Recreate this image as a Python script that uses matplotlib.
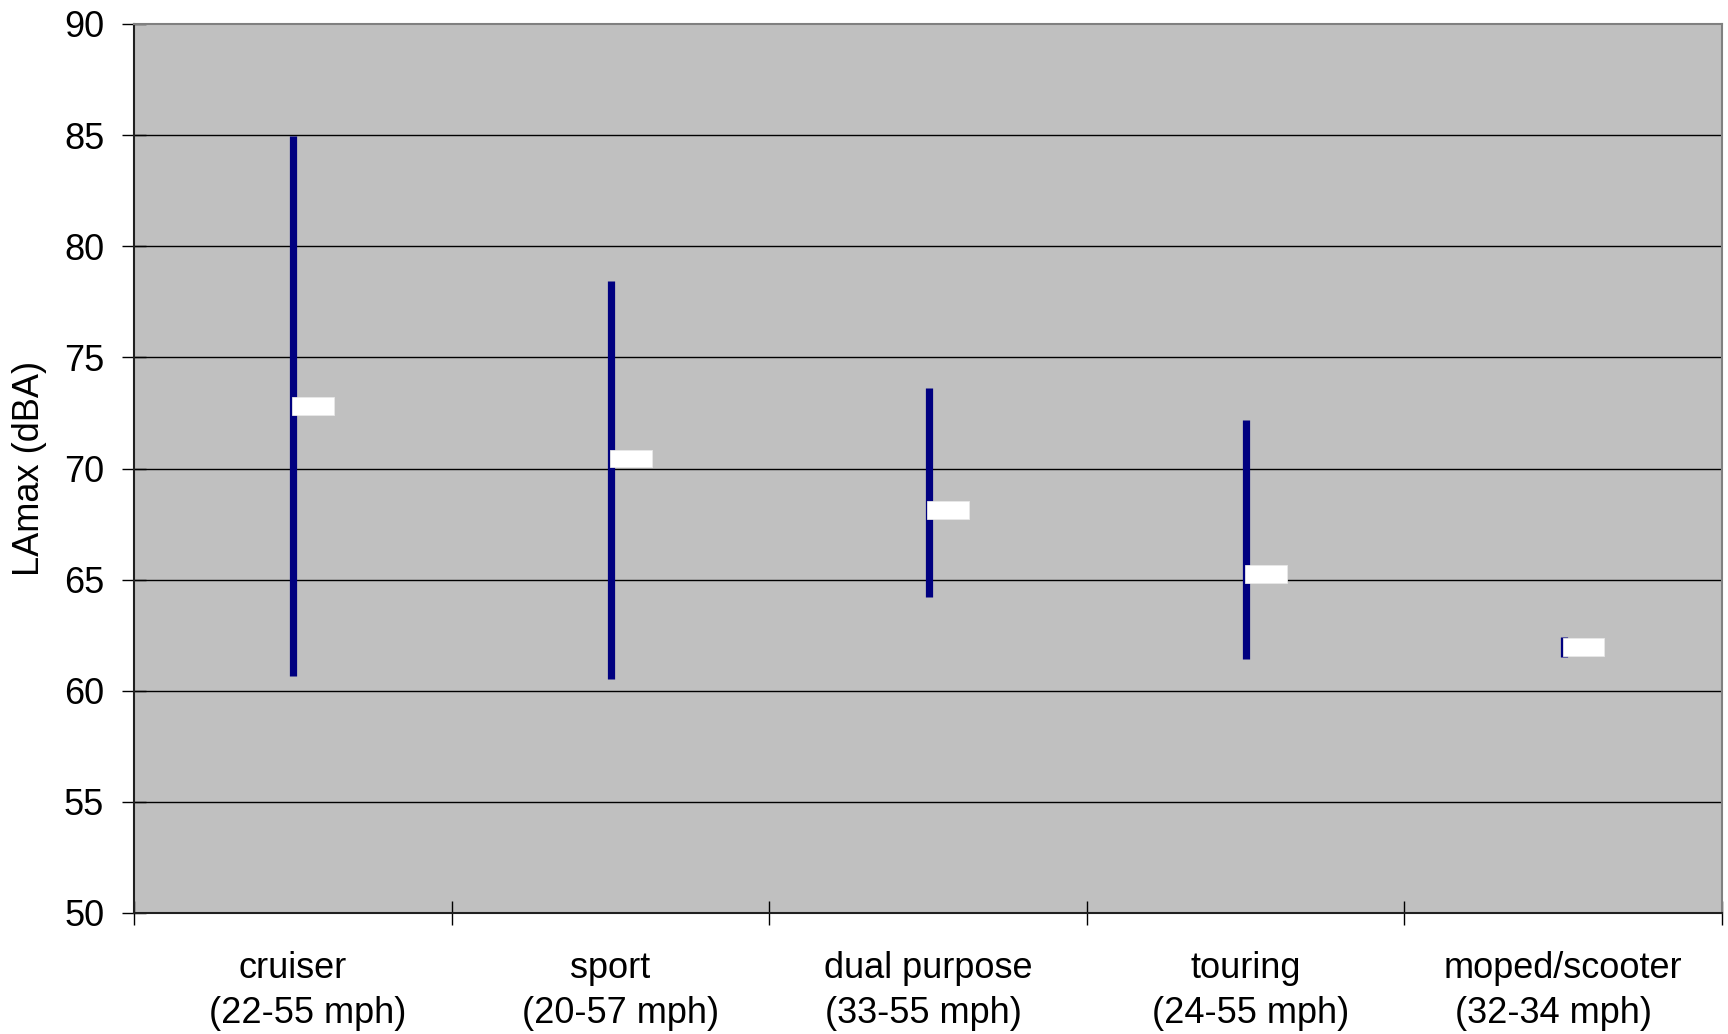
import matplotlib
matplotlib.use("Agg")
import matplotlib.pyplot as plt
import numpy as np

# ---- data ----
categories = ["cruiser", "sport", "dual purpose", "touring", "moped/scooter"]
speed_ranges = ["(22-55 mph)", "(20-57 mph)", "(33-55 mph)", "(24-55 mph)", "(32-34 mph)"]
high_vals = [84.95, 78.45, 73.6, 72.2, 62.42]
low_vals = [60.65, 60.55, 64.2, 61.45, 61.5]
mean_vals = [72.8, 70.45, 68.15, 65.25, 61.96]
y_ticks = [50, 55, 60, 65, 70, 75, 80, 85, 90]

# label spacing tweaks (imitate original text centring)
second_prefix = ["   ", "  ", "", " ", ""]
second_suffix = ["", "", " ", "", "  "]

plt.rcParams['font.family'] = ['Liberation Sans', 'DejaVu Sans']

fig = plt.figure(figsize=(17.28, 10.34), dpi=100)
ax = fig.add_axes([134/1728, 1 - 913/1034, (1722-134)/1728, (913-24)/1034])
ax.set_facecolor("#C0C0C0")

x = np.arange(len(categories)) + 0.5
ax.set_xlim(0, len(categories))
ax.set_ylim(50, 90)

# gridlines
for yv in y_ticks[1:-1]:
    ax.axhline(yv, color="black", lw=1.0, zorder=1)

# high-low lines
ax.vlines(x + 0.002, low_vals, high_vals, colors="#000080", lw=5.2, zorder=3)

# mean markers (white)
marker_h = 0.8
ax.bar(x - 0.002, [marker_h]*len(x), width=0.132, align="edge",
       bottom=np.array(mean_vals) - marker_h/2, color="white",
       edgecolor="#e8e8e8", linewidth=0.6, zorder=4)

# axes styling
ax.set_yticks(y_ticks)
ax.set_yticklabels([str(v) for v in y_ticks])
ax.set_xticks(np.arange(len(categories) + 1))
ax.set_xticklabels([])
labels = [f"{c}\n{p}{s}{q}" for c, s, p, q in zip(categories, speed_ranges, second_prefix, second_suffix)]
ax.set_xticks(x, minor=True)
ax.set_xticklabels(labels, minor=True, fontsize=26, linespacing=1.4)
ax.tick_params(axis="x", which="minor", length=0, pad=27)
ax.tick_params(axis="x", which="major", direction="inout", length=17, width=1, color="black")
ax.tick_params(axis="y", direction="inout", length=17, width=1, labelsize=26, pad=13)

ax.set_ylabel("LAmax (dBA)", fontsize=26, labelpad=12)

for side in ["left", "bottom"]:
    ax.spines[side].set_color("#202020")
    ax.spines[side].set_linewidth(1.5)
for side in ["top", "right"]:
    ax.spines[side].set_color("#808080")
    ax.spines[side].set_linewidth(1.5)

fig.savefig("out.png", dpi=100)
